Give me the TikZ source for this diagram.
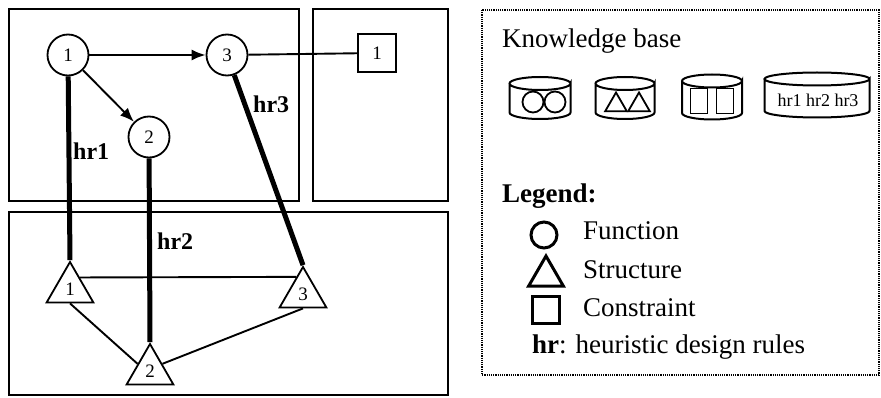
\documentclass[tikz,border=0pt]{standalone}
\usepackage{fontspec}
\setmainfont{Liberation Serif}
\usetikzlibrary{shapes.geometric,arrows.meta,calc}

% drum for the knowledge base: centre x, centre y, width, height
\newcommand{\kbdrum}[4]{%
  \draw[line width=2pt] (#1,#2) ++(-#3/2,-#4/2+6.5) -- ++(0,#4-13)
    arc[start angle=180, end angle=0, x radius=#3/2, y radius=6.5] -- ++(0,-#4+13)
    arc[start angle=0, end angle=360, x radius=#3/2, y radius=6.5];
}

\begin{document}
\begin{tikzpicture}[x=1pt, y=-1pt,
  func/.style = {draw, circle, line width=1.8pt, minimum size=41pt, inner sep=0pt, font=\fontsize{19}{19}\selectfont},
  struct/.style = {draw, regular polygon, regular polygon sides=3, line width=1.8pt, minimum size=54pt, inner sep=0pt, font=\fontsize{19}{19}\selectfont},
  constr/.style = {draw, rectangle, line width=1.8pt, minimum size=38pt, inner sep=0pt, font=\fontsize{19}{19}\selectfont},
  rule/.style = {line width=5pt},
  link/.style = {line width=1.9pt},
  big/.style = {font=\fontsize{27}{32}\selectfont, anchor=base west, inner sep=0pt},
  hrlabel/.style = {font=\fontsize{24}{24}\selectfont\bfseries, anchor=base west, inner sep=0pt}]

\useasboundingbox (0,0) rectangle (881,398);

%% panels
\draw[line width=1.9pt] (9,9) rectangle (299,201);
\draw[line width=1.9pt] (313,9) rectangle (448,201);
\draw[line width=1.9pt] (9,212) rectangle (448,395);
\draw[densely dotted, line width=1.2pt] (482,10) rectangle (879,375);

%% functions, constraint, structures
\node[func] (f1) at (68,55) {1};
\node[func] (f2) at (149,137) {2};
\node[func] (f3) at (227,55) {3};
\node[constr] (c1) at (377,53) {1};
\node[struct] (s1) at (70,289) {1};
\node[struct] (s2) at (150,371) {2};
\node[struct] (s3) at (303,294) {3};

%% links
\draw[link, -{Latex[length=14pt, width=11pt]}] (f1) -- (f3);
\draw[link, -{Latex[length=14pt, width=11pt]}] (f1) -- (f2);
\draw[link] (f3) -- (c1);
\draw[link] ($(s1.corner 1)!0.4!(s1.corner 3)$) -- ($(s3.corner 1)!0.27!(s3.corner 2)$);
\draw[link] (s1.side 2) -- (s2.side 1);
\draw[link] (s2.side 3) -- (s3.side 2);

%% heuristic rules
\draw[rule] (f1) -- (s1.corner 1);
\draw[rule] (f2) -- (s2.corner 1);
\draw[rule] (f3) -- (s3.corner 1);
\node[hrlabel] (hr1) at (73,160) {hr1};
\node[hrlabel] (hr2) at (157,250) {hr2};
\node[hrlabel] (hr3) at (253,113) {hr3};

%% knowledge base
\node[big] (kbtitle) at (502,48) {Knowledge base};
\kbdrum{540}{98}{61}{42}
\kbdrum{625}{98}{59}{42}
\kbdrum{712}{97}{60}{45}
\kbdrum{817}{95}{105}{45}
\node[font=\fontsize{18}{18}\selectfont, inner sep=0pt] (kbrules) at (818,100) {hr1 hr2 hr3};
\node[draw, circle, line width=1.8pt, minimum size=21pt, inner sep=0pt] (kbf1) at (533,102) {};
\node[draw, circle, line width=1.8pt, minimum size=21pt, inner sep=0pt] (kbf2) at (555,102) {};
\node[draw, regular polygon, regular polygon sides=3, line width=1.8pt, minimum size=25pt, inner sep=0pt] (kbs1) at (616,105) {};
\node[draw, regular polygon, regular polygon sides=3, line width=1.8pt, minimum size=25pt, inner sep=0pt] (kbs2) at (639,105) {};
\node[draw, rectangle, line width=1.8pt, minimum width=17pt, minimum height=25pt, inner sep=0pt] (kbc1) at (699,101) {};
\node[draw, rectangle, line width=1.8pt, minimum width=17pt, minimum height=25pt, inner sep=0pt] (kbc2) at (725,101) {};

%% legend
\node[big, font=\fontsize{27}{32}\selectfont\bfseries] (legtitle) at (502,203) {Legend:};
\node[draw, circle, line width=3pt, minimum size=26pt, inner sep=0pt] (legf) at (544,235) {};
\node[draw, regular polygon, regular polygon sides=3, line width=3pt, minimum size=40pt, inner sep=0pt] (legs) at (546,276) {};
\node[draw, rectangle, line width=3pt, minimum size=27pt, inner sep=0pt] (legc) at (546,310) {};
\node[big] (legftext) at (583,240) {Function};
\node[big] (legstext) at (583,278) {Structure};
\node[big] (legctext) at (583,316) {Constraint};
\node[big] (leghtext) at (532,353) {\textbf{hr}: heuristic design rules};

\end{tikzpicture}
\end{document}
